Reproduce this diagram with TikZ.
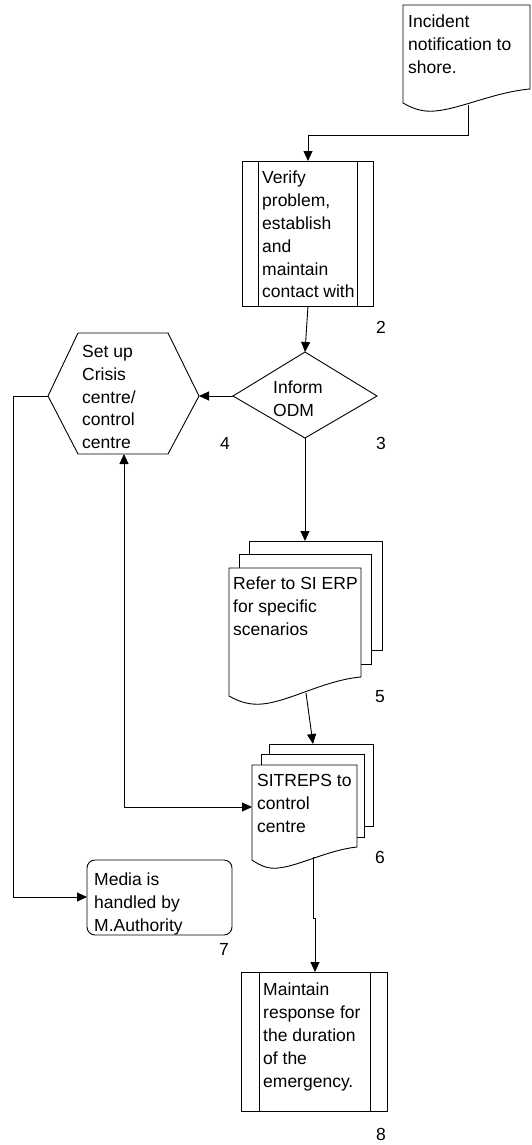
\documentclass[tikz,border=0pt]{standalone}
\usepackage{fontspec}
\setmainfont{Liberation Sans}
\usetikzlibrary{arrows.meta}

\tikzset{
  shape line/.style={draw=black, line width=0.9pt, line join=miter, fill=white},
  conn/.style={draw=black, line width=0.9pt},
  arr/.style={conn, -{Triangle[length=10pt,width=9pt]}},
  arrboth/.style={conn, {Triangle[length=10pt,width=9pt]}-{Triangle[length=10pt,width=9pt]}},
  label text/.style={anchor=north west, inner sep=0pt, align=left,
    font=\fontsize{17.5}{22.8}\selectfont},
  num/.style={inner sep=0pt, font=\fontsize{17.5}{22.8}\selectfont},
}

\begin{document}
\begin{tikzpicture}[x=1pt, y=-1pt]
\path[use as bounding box] (0,0) rectangle (532,1145);

% --- 1: incident notification (document)
\path[shape line] (403,5) -- (530,5) -- (530,89)
  .. controls (495,92) and (460,109) .. (435,111)
  .. controls (425,112) and (415,110) .. (403,103) -- cycle;
\node[label text] (t1) at (408,15) {Incident\\notification to\\shore.};
\coordinate (d1b) at (468,105);

% --- 2: verify problem (predefined process)
\path[shape line] (242,161) rectangle (373,306);
\draw[conn] (258,161) -- (258,306) (357,161) -- (357,306);
\node[label text] (t2) at (262,171) {Verify\\problem,\\establish\\and\\maintain\\contact with};
\node[num] (n2) at (381,327) {2};
\coordinate (vt) at (308,161);
\coordinate (vb) at (308,306);

% --- 3: inform ODM (decision)
\path[shape line] (305,352) -- (377,396) -- (305,438) -- (233,396) -- cycle;
\node[label text] (t3) at (273,381) {Inform\\ODM};
\node[num] (n3) at (381,443) {3};
\coordinate (dt) at (305,352);
\coordinate (dl) at (233,396);
\coordinate (db) at (305,438);

% --- 4: crisis centre (hexagon)
\path[shape line] (48,396) -- (78,333) -- (168,333) -- (199,396) -- (168,454) -- (78,454) -- cycle;
\node[label text] (t4) at (82,345) {Set up\\Crisis\\centre/\\control\\centre};
\node[num] (n4) at (225,443) {4};
\coordinate (hr) at (199,396);
\coordinate (hl) at (48,396);
\coordinate (hb) at (124,454);

% --- 5: refer to SI ERP (multiple documents)
\path[shape line] (249,541) rectangle (382,650);
\path[shape line] (239,554) rectangle (371,664);
\path[shape line] (229,568) -- (361,568) -- (361,677)
  .. controls (325,680) and (288,702) .. (262,704)
  .. controls (252,705) and (241,703) .. (229,696) -- cycle;
\node[label text] (t5) at (233,577) {Refer to SI ERP\\for specific\\scenarios};
\node[num] (n5) at (380,697) {5};
\coordinate (m5t) at (305,541);
\coordinate (m5b) at (306,693);

% --- 6: SITREPS (multiple documents)
\path[shape line] (269,744) rectangle (373,826);
\path[shape line] (261,754) rectangle (364,837);
\path[shape line] (252,765) -- (357,765) -- (357,847)
  .. controls (328,850) and (299,866) .. (278,868)
  .. controls (270,869) and (262,867) .. (252,860) -- cycle;
\node[label text] (t6) at (257,774) {SITREPS to\\control\\centre};
\node[num] (n6) at (380,857) {6};
\coordinate (m6t) at (313,744);
\coordinate (m6l) at (252,807);
\coordinate (m6b) at (313,857);

% --- 7: media (rounded box)
\path[shape line, rounded corners=8pt] (87,860) rectangle (232,935);
\node[label text] (t7) at (94,873) {Media is\\handled by\\M.Authority};
\node[num] (n7) at (224,949) {7};
\coordinate (ml) at (87,897);

% --- 8: maintain response (predefined process)
\path[shape line] (241,972) rectangle (387,1111);
\draw[conn] (259,972) -- (259,1111) (370,972) -- (370,1111);
\node[label text] (t8) at (263,983) {Maintain\\response for\\the duration\\of the\\emergency.};
\node[num] (n8) at (381,1134) {8};
\coordinate (pt) at (315,972);

% --- connectors
\coordinate (j1) at (308,135);
\draw[arr] (d1b) |- (j1) -- (vt);
\draw[arr] (vb) -- (dt);
\draw[arr] (dl) -- (hr);
\draw[arr] (db) -- (m5t);
\draw[arr] (m5b) -- (m6t);
\draw[arrboth] (hb) |- (m6l);
\coordinate (j2) at (13,396);
\draw[arr] (hl) -- (j2) |- (ml);
\coordinate (j3) at (313,918);
\coordinate (j4) at (315,918);
\draw[arr] (m6b) -- (j3) -- (j4) -- (pt);
\end{tikzpicture}
\end{document}
